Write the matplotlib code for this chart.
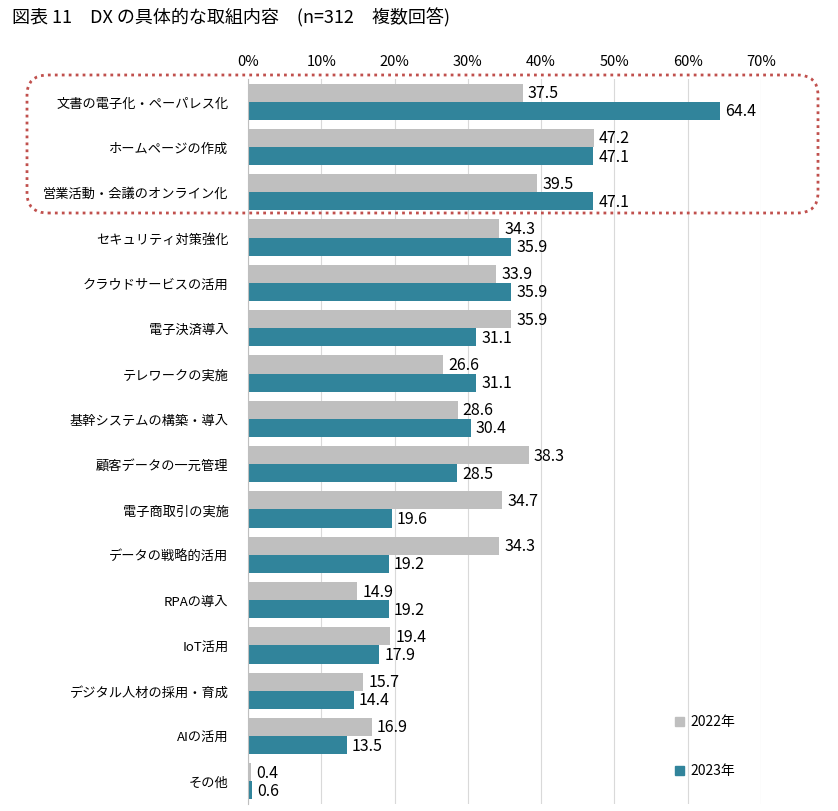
import matplotlib
matplotlib.use("Agg")
import matplotlib.pyplot as plt
from matplotlib.patches import FancyBboxPatch, Rectangle
import numpy as np

plt.rcParams["font.family"] = "Noto Sans CJK JP"

categories = ["文書の電子化・ペーパレス化", "ホームページの作成", "営業活動・会議のオンライン化",
              "セキュリティ対策強化", "クラウドサービスの活用", "電子決済導入", "テレワークの実施",
              "基幹システムの構築・導入", "顧客データの一元管理", "電子商取引の実施",
              "データの戦略的活用", "RPAの導入", "IoT活用", "デジタル人材の採用・育成",
              "AIの活用", "その他"]
v2022 = [37.5, 47.2, 39.5, 34.3, 33.9, 35.9, 26.6, 28.6, 38.3, 34.7, 34.3, 14.9, 19.4, 15.7, 16.9, 0.4]
v2023 = [64.4, 47.1, 47.1, 35.9, 35.9, 31.1, 31.1, 30.4, 28.5, 19.6, 19.2, 19.2, 17.9, 14.4, 13.5, 0.6]
xticks = [0, 10, 20, 30, 40, 50, 60, 70]
series_names = ["2022年", "2023年"]
c22, c23 = "#BFBFBF", "#31849B"

W, H = 838, 812
fig = plt.figure(figsize=(W/100, H/100), dpi=100)
ax = fig.add_axes([248/W, 1-805/H, (761-248)/W, (805-80)/H])
n = len(categories)
y = np.arange(n)
bh = 0.4
ax.barh(y - bh/2, v2022, height=bh, color=c22)
ax.barh(y + bh/2, v2023, height=bh, color=c23)
for i in range(n):
    ax.text(v2022[i] + 0.7, y[i] - bh/2, f"{v2022[i]:.1f}", va="center", ha="left", fontsize=11.5)
    ax.text(v2023[i] + 0.7, y[i] + bh/2, f"{v2023[i]:.1f}", va="center", ha="left", fontsize=11.5)
ax.set_ylim(n - 0.5, -0.5)
ax.set_xlim(0, 70)
ax.set_xticks(xticks)
ax.set_xticklabels([f"{t}%" for t in xticks], fontsize=10.5)
ax.xaxis.tick_top()
ax.tick_params(axis="x", length=0, pad=8)
ax.set_yticks(y)
ax.set_yticklabels(categories, fontsize=9.5)
ax.tick_params(axis="y", length=0, pad=14)
ax.grid(axis="x", color="#D9D9D9", linewidth=0.8)
ax.set_axisbelow(True)
for s in ["top", "right", "bottom"]:
    ax.spines[s].set_visible(False)
ax.spines["left"].set_color("#BFBFBF")

fig.text(12/W, 1-18/H, "図表 11　DX の具体的な取組内容　(n=312　複数回答)", fontsize=13, va="center")

box = FancyBboxPatch((27/W, 1-214/H), (818-27)/W, (214-76)/H,
                     boxstyle="round,pad=0,rounding_size=0.025",
                     transform=fig.transFigure, fill=False, edgecolor="#C0504D",
                     linestyle=(0, (1, 1.5)), linewidth=2)
fig.patches.append(box)

for name, col, yy in [(series_names[0], c22, 722), (series_names[1], c23, 771)]:
    fig.patches.append(Rectangle((675/W, 1-(yy+5)/H), 9/W, 9/H, transform=fig.transFigure, color=col))
    fig.text(690/W, 1-yy/H, name, fontsize=10, va="center")

fig.savefig("out.png", dpi=100, facecolor="white")
